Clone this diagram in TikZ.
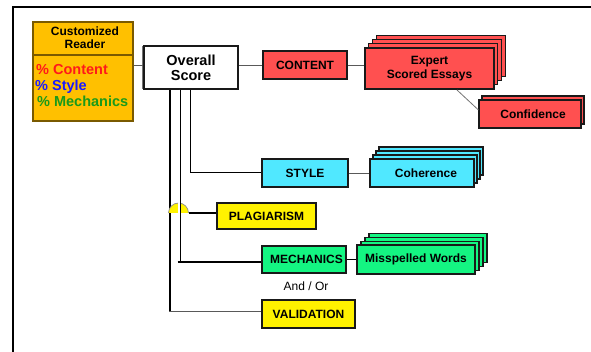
\documentclass[tikz,border=0pt]{standalone}
\usepackage{fontspec}
\setmainfont{Liberation Sans}
\definecolor{readerf}{HTML}{FFC000}
\definecolor{readerd}{HTML}{7A5A00}
\definecolor{redf}{HTML}{FF5050}
\definecolor{cyanf}{HTML}{50E8FF}
\definecolor{greenf}{HTML}{14F582}
\definecolor{yellowf}{HTML}{FFF200}
\definecolor{pctred}{HTML}{FF1A1A}
\definecolor{pctblue}{HTML}{1A1AFF}
\definecolor{pctgreen}{HTML}{1A9A1A}
\begin{document}
\begin{tikzpicture}[x=1pt,y=-1pt,
  box/.style={draw=black!90, line width=1.1pt, inner sep=0pt, align=center,
    font=\bfseries\fontsize{12}{14}\selectfont},
  layer/.style={draw=black!90, line width=1.1pt},
  thinln/.style={draw=black!65, line width=0.9pt},
  thickln/.style={draw=black, line width=1.8pt}]
\useasboundingbox (0,0) rectangle (591,352);
% frame
\draw[line width=1.8pt] (13,352) -- (13,7) -- (591,7);

% customized reader
\node[draw=readerd, line width=1.1pt, fill=readerf, minimum width=100pt, minimum height=99pt, inner sep=0pt] (reader) at (83,71.5) {};
\draw[draw=readerd, line width=1.1pt] (reader.west |- 0,55) -- (reader.east |- 0,55);
\node[font=\bfseries\fontsize{12}{13}\selectfont, align=center, inner sep=0pt] (readerhead) at (85,37.5) {Customized\\Reader};
\node[anchor=base west, inner sep=0pt, font=\bfseries\fontsize{14.5}{16}\selectfont, text=pctred] (pc) at (36,75) {\% Content};
\node[anchor=base west, inner sep=0pt, font=\bfseries\fontsize{14.5}{16}\selectfont, text=pctblue] (ps) at (35,91) {\% Style};
\node[anchor=base west, inner sep=0pt, font=\bfseries\fontsize{14.5}{16}\selectfont, text=pctgreen] (pm) at (37,107) {\% Mechanics};

% overall score
\draw[black!55, line width=0.9pt] (142,46) -- (142,89);
\node[box, fill=white, minimum width=94pt, minimum height=43pt, font=\bfseries\fontsize{14.5}{15}\selectfont] (overall) at (191,67.5) {Overall\\Score};

% content branch
\node[box, fill=redf, minimum width=84pt, minimum height=28pt] (content) at (305,65) {CONTENT};
\foreach \k in {3,2,1}
  \draw[layer, fill=redf] ({365+3.7*\k},{48-4.3*\k}) rectangle ({494+3.7*\k},{89-4.3*\k});
\node[box, fill=redf, minimum width=129pt, minimum height=41pt] (expert) at (429.5,68.5) {Expert\\Scored Essays};
\draw[layer, fill=redf] (482,96) rectangle (584,124);
\node[box, fill=redf, minimum width=102pt, minimum height=28pt] (conf) at (530,114) {\hspace{6pt}Confidence};

% style branch
\node[box, fill=cyanf, minimum width=86pt, minimum height=28pt] (style) at (305,173) {STYLE};
\foreach \k in {3,2,1}
  \draw[layer, fill=cyanf] ({370+3*\k},{159-4*\k}) rectangle ({474+3*\k},{187-4*\k});
\node[box, fill=cyanf, minimum width=104pt, minimum height=28pt] (coh) at (422,173) {\hspace{8pt}Coherence};

% plagiarism
\node[box, fill=yellowf, minimum width=99pt, minimum height=26pt] (plag) at (266.5,216) {PLAGIARISM};

% mechanics
\node[box, fill=greenf, minimum width=84pt, minimum height=27pt] (mech) at (304,259.5) {\hspace{5pt}MECHANICS};
\foreach \k in {3,2,1}
  \draw[layer, fill=greenf] ({357+4*\k},{245-3.7*\k}) rectangle ({475+4*\k},{274-3.7*\k});
\node[box, fill=greenf, minimum width=118pt, minimum height=29pt] (miss) at (416,259.5) {Misspelled Words};
\node[inner sep=0pt, font=\fontsize{12}{14}\selectfont] (andor) at (306,286) {And / Or};

% validation
\node[box, fill=yellowf, minimum width=93pt, minimum height=28pt] (valid) at (308.5,314) {VALIDATION};

% connectors
\draw[thinln] ([yshift=2.5pt]overall.west) -- ([yshift=2.5pt]overall.west -| reader.east);
\draw[thinln] (content.west) -- (content.west -| overall.east);
\draw[thinln] (content.east) -- (content.east -| expert.west);
\coordinate (expfoot) at (457,90);
\draw[black!55, line width=0.8pt] (expfoot) -- ([yshift=4pt]conf.west);
\draw[thinln] (style.east) -- (style.east -| coh.west);
\draw[thickln] (mech.east) -- (mech.east -| miss.west);

% trunk lines from overall score
\draw[thickln] ([xshift=-0.5pt]overall.south) -- ([xshift=-0.5pt]overall.south |- style.west);
\draw[black, line width=1pt] ([xshift=-1pt]overall.south |- style.west) -- (style.west);
\coordinate (hop) at (178.5,213);
\draw[thickln] ([xshift=-21pt]overall.south) -- ([xshift=-21pt]overall.south |- 0,311);
\draw[thinln] ([xshift=-21.9pt]overall.south |- 0,311) -- (valid.west |- 0,311);
\draw[fill=yellowf, draw=black!45, line width=0.7pt] ([xshift=-10pt]hop) arc[start angle=180, end angle=0, radius=10pt];
\draw[thickln] ([xshift=10pt]hop) -- (plag.west |- hop);
\draw[black, line width=0.8pt, double=white, double distance=1.4pt] ([xshift=-12pt]overall.south) -- ([xshift=-12pt]overall.south |- 0,262);
\draw[thickln] ([xshift=-13.4pt]overall.south |- 0,262) -- (mech.west |- 0,262);
\end{tikzpicture}
\end{document}
